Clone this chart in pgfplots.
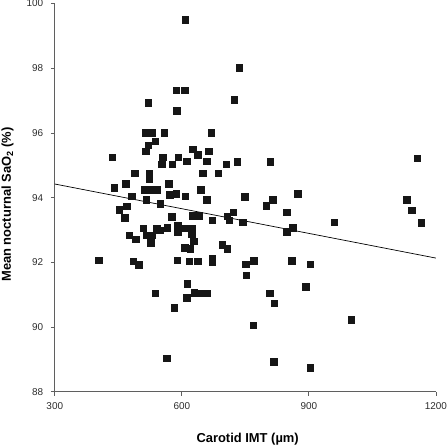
\documentclass[border=0pt]{standalone}
\usepackage{fontspec}
\setmainfont{Liberation Sans}
\usepackage{pgfplots}
\pgfplotsset{compat=1.18}
\definecolor{axisgray}{RGB}{95,95,95}
\definecolor{labgray}{RGB}{45,45,45}
\definecolor{markblack}{RGB}{22,22,22}
\pgfplotstableread{
x y
608 99.5
587 97.32
607 97.32
520 96.93
588 96.69
513 96.01
529 96.01
558 96.01
669 96.0
537 95.74
520 95.62
514 95.43
625 95.5
638 95.32
663 95.44
435 95.25
555 95.25
591 95.25
612 95.13
658 95.13
553 95.03
577 95.03
705 95.03
488 94.75
523 94.76
649 94.75
686 94.75
523 94.59
569 94.44
467 94.44
440 94.31
512 94.24
530 94.24
541 94.24
644 94.24
571 94.10
587 94.13
482 94.04
608 94.05
516 93.94
658 93.94
549 93.82
470 93.74
452 93.62
465 93.38
576 93.42
626 93.44
640 93.44
672 93.30
707 93.43
712 93.30
721 93.55
743 93.24
749 94.03
731 95.12
735 98.01
724 97.02
809 95.12
873 94.13
815 93.93
799 93.76
847 93.55
847 92.94
861 93.07
960 93.24
1156 95.22
1131 93.93
1143 93.61
1165 93.23
509 93.05
541 93.05
547 93.00
565 93.07
590 93.14
590 92.93
609 93.06
623 93.06
623 92.88
476 92.84
491 92.72
516 92.84
530 92.84
526 92.61
628 92.66
607 92.45
620 92.42
695 92.55
707 92.42
403 92.06
485 92.04
498 91.93
589 92.06
617 92.04
637 92.04
672 92.12
672 92.01
613 91.34
537 91.05
629 91.07
647 91.05
658 91.05
611 90.91
582 90.60
564 89.04
751 91.94
769 92.05
752 91.60
859 92.05
903 91.94
807 91.04
818 90.74
893 91.24
768 90.06
1000 90.22
817 88.92
903 88.74
}\scatterdata
\begin{document}
\begin{tikzpicture}
\begin{axis}[
  scale only axis,
  width=382bp, height=389bp,
  xmin=300, xmax=1200, ymin=88, ymax=100,
  xtick={300,600,900,1200},
  ytick={88,90,92,94,96,98,100},
  axis lines*=left,
  axis line style={draw=axisgray, line width=0.8bp},
  tick style={draw=axisgray, line width=0.8bp},
  tick align=outside,
  major tick length=4bp,
  /pgf/number format/assume math mode=true,
  /pgf/number format/1000 sep={},
  xticklabel={\pgfmathprintnumber{\tick}},
  yticklabel={\pgfmathprintnumber{\tick}},
  tick label style={font=\fontsize{10}{12}\selectfont, text=labgray, inner sep=0pt},
  xticklabel style={yshift=-7bp},
  yticklabel style={xshift=-7.5bp},
  xlabel={Carotid IMT (µm)},
  ylabel={Mean nocturnal SaO\textsubscript{2} (\%)},
  xlabel style={at={(axis description cs:0.506,-0.131)}, anchor=base, inner sep=0pt,
    font=\fontsize{13}{15}\selectfont\bfseries, text=black},
  ylabel style={at={(axis description cs:-0.124,0.482)}, anchor=center, inner sep=1.5bp,
    font=\fontsize{13}{15}\selectfont\bfseries, text=black},
]
\addplot[only marks, mark=square*, mark size=3.3bp,
  mark options={fill=markblack, draw=markblack, line width=0.3bp, rounded corners=1.5bp}]
  table[x=x, y=y] {\scatterdata};
\addplot[black, line width=0.7bp] coordinates {(300,94.42) (1200,92.13)};
\end{axis}
\end{tikzpicture}
\end{document}
